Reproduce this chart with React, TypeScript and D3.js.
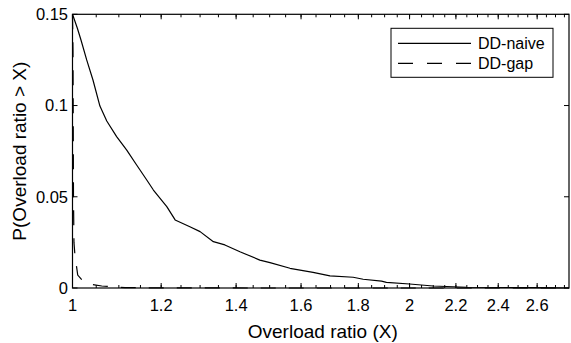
import React from 'react';
import * as d3 from 'd3';

// DD-naive: P(Overload ratio > X)
const naiveX = [1.0, 1.0099, 1.0176, 1.0296, 1.043, 1.058, 1.073, 1.095, 1.118, 1.141, 1.165, 1.181, 1.214, 1.235, 1.273, 1.3, 1.336, 1.368, 1.411, 1.47, 1.501, 1.564, 1.64, 1.698, 1.781, 1.818, 1.888, 1.907, 2.0, 2.099, 2.249, 2.58, 2.776];
const naiveP = [0.15, 0.1425, 0.1359, 0.125, 0.114, 0.0997, 0.0915, 0.083, 0.0756, 0.0674, 0.0592, 0.0537, 0.0446, 0.0373, 0.0336, 0.0309, 0.0254, 0.0236, 0.0199, 0.0153, 0.0139, 0.0108, 0.0086, 0.0066, 0.0059, 0.0048, 0.0038, 0.0031, 0.0022, 0.0011, 0.0004, 0.0002, 0.0];

// DD-gap
const gapX = [1.0, 1.001, 1.0015, 1.002, 1.003, 1.005, 1.0108, 1.026, 1.062, 1.114, 1.2, 1.5, 2.0, 2.776];
const gapP = [0.15, 0.13, 0.09, 0.05, 0.025, 0.0181, 0.0071, 0.0026, 0.0011, 0.0002, 0.00005, 0.0, 0.0, 0.0];

const xMajor = [1, 1.2, 1.4, 1.6, 1.8, 2, 2.2, 2.4, 2.6];
const xMinor = d3.range(1, 2.76, 0.05);
const yTicks = [0, 0.05, 0.1, 0.15];
const seriesNames = ['DD-naive', 'DD-gap'];

const W = 571;
const H = 343;
const left = 72.5, right = 569, top = 14.3, bottom = 288;
const font = '"Liberation Sans", Arial, Helvetica, sans-serif';

export default function App() {
  const x = d3.scaleLog().domain([1, 2.776]).range([left, right]);
  const y = d3.scaleLinear().domain([0, 0.15]).range([bottom, top]);

  const line = d3.line<[number, number]>()
    .x(d => x(d[0]))
    .y(d => y(d[1]));

  const naive = naiveX.map((v, i) => [v, naiveP[i]] as [number, number]);
  const gap = gapX.map((v, i) => [v, gapP[i]] as [number, number]);

  const fmt = (v: number) => String(+v.toFixed(2));

  return (
    <svg width={W} height={H} style={{ position: 'absolute', left: 0, top: 0, background: '#fff' }} fontFamily={font}>
      <rect x={0} y={0} width={W} height={H} fill="#fff" />

      {/* curves */}
      <path d={line(naive) || ''} fill="none" stroke="#000" strokeWidth={1.2} strokeLinejoin="round" />
      <path d={line(gap) || ''} fill="none" stroke="#000" strokeWidth={1.2} strokeDasharray="15,13" />

      {/* frame */}
      <rect x={left} y={top} width={right - left} height={bottom - top} fill="none" stroke="#000" strokeWidth={1.2} />

      {/* x ticks */}
      {xMinor.map((v, i) => (
        <g key={'mn' + i}>
          <line x1={x(v)} x2={x(v)} y1={bottom} y2={bottom - 3} stroke="#000" strokeWidth={1} />
          <line x1={x(v)} x2={x(v)} y1={top} y2={top + 3} stroke="#000" strokeWidth={1} />
        </g>
      ))}
      {xMajor.map((v, i) => (
        <g key={'mj' + i}>
          <line x1={x(v)} x2={x(v)} y1={bottom} y2={bottom - 5} stroke="#000" strokeWidth={1} />
          <line x1={x(v)} x2={x(v)} y1={top} y2={top + 5} stroke="#000" strokeWidth={1} />
          <text x={x(v)} y={311} textAnchor="middle" fontSize={16.5} fill="#000">{fmt(v)}</text>
        </g>
      ))}

      {/* y ticks */}
      {yTicks.map((v, i) => (
        <g key={'y' + i}>
          <line x1={left} x2={left + 5} y1={y(v)} y2={y(v)} stroke="#000" strokeWidth={1} />
          <line x1={right} x2={right - 5} y1={y(v)} y2={y(v)} stroke="#000" strokeWidth={1} />
          <text x={68} y={y(v)} dy="0.35em" textAnchor="end" fontSize={16.5} fill="#000">{fmt(v)}</text>
        </g>
      ))}

      {/* axis labels */}
      <text x={(left + right) / 2 + 2} y={338} textAnchor="middle" fontSize={19} fill="#000">Overload ratio (X)</text>
      <text transform={`translate(26,${(top + bottom) / 2}) rotate(-90)`} textAnchor="middle" fontSize={19} fill="#000">P(Overload ratio &gt; X)</text>

      {/* legend */}
      <g>
        <rect x={391} y={28.3} width={162} height={49} fill="#fff" stroke="#000" strokeWidth={1} />
        {seriesNames.map((name, i) => (
          <g key={name} transform={`translate(0,${43.3 + i * 20})`}>
            <line x1={398} x2={471} y1={0} y2={0} stroke="#000" strokeWidth={1.2} strokeDasharray={i === 1 ? '15,14' : undefined} />
            <text x={478} y={0} dy="0.35em" fontSize={16} fill="#000">{name}</text>
          </g>
        ))}
      </g>
    </svg>
  );
}
